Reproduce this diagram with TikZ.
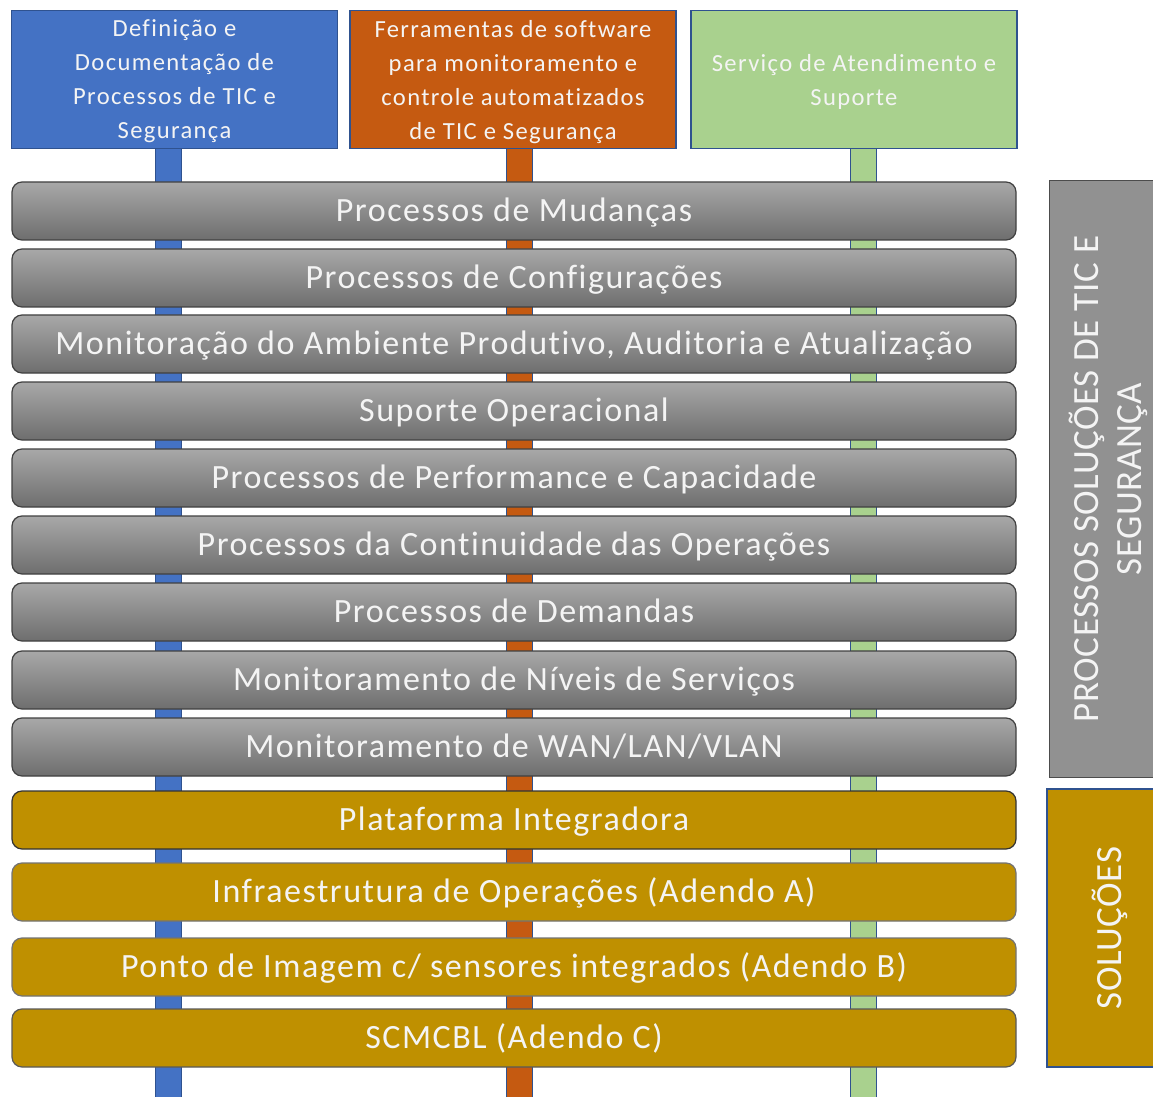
\documentclass[tikz,border=0pt]{standalone}
\usepackage{fontspec}
\setmainfont{Carlito}
\newfontfamily\barra[LetterSpace=4.5, Ligatures=NoCommon]{Carlito}
\newfontfamily\caixa[LetterSpace=5.5, Ligatures=NoCommon]{Carlito}
\newfontfamily\lateral[LetterSpace=1.5]{Carlito}
\usepackage{tikz}
\usepackage{xcolor}

\definecolor{azul}{HTML}{4472C4}
\definecolor{laranja}{HTML}{C55A11}
\definecolor{verde}{HTML}{A9D18E}
\definecolor{ouro}{HTML}{BF9000}
\definecolor{borda}{HTML}{2F528F}
\definecolor{cinzaA}{HTML}{A8A8A8}
\definecolor{cinzaB}{HTML}{6E6E6E}
\definecolor{letra}{HTML}{F4F4F4}

\tikzset{
  topo/.style={draw=borda, line width=0.6pt, minimum width=163pt, minimum height=69pt,
    text=letra, align=center, text depth=0pt, font=\caixa\fontsize{12.3}{17}\selectfont},
  pilar/.style={draw=borda, line width=0.5pt, double=#1, double distance=12.5pt},
  processo/.style={draw=black!75, line width=0.6pt, rounded corners=5pt,
    top color=cinzaA, bottom color=cinzaB, minimum width=502pt, minimum height=29pt,
    text height=13.2pt, text depth=2.4pt,
    text=letra, font=\barra\fontsize{17}{20}\selectfont},
  solucao/.style={draw=black!80, line width=0.6pt, rounded corners=5pt, fill=ouro,
    minimum width=502pt, minimum height=29pt, text height=13.2pt, text depth=2.4pt,
    text=letra, font=\barra\fontsize{17}{20}\selectfont},
  lado/.style={rotate=90, align=center, text=letra, font=\lateral\fontsize{18.5}{21.5}\selectfont}
}

\begin{document}
\begin{tikzpicture}[x=0.5pt, y=-0.5pt]
  \useasboundingbox (0,0) rectangle (1153,1097);

  % caixas de cima
  \node[topo, fill=azul] (definicao) at (174.5,79.5) {Definição e\\Documentação de\\Processos de TIC e\\Segurança};
  \node[topo, fill=laranja] (ferramentas) at (513,79.5) {Ferramentas de software\\para monitoramento e\\controle automatizados\\de TIC e Segurança};
  \node[topo, fill=verde] (servico) at (854,79.5) {Serviço de Atendimento e\\Suporte};

  % pilares
  \coordinate (fimA) at (168,1100);
  \coordinate (fimB) at (519,1100);
  \coordinate (fimC) at (863,1100);
  \draw[pilar=azul] (definicao.south -| fimA) -- (fimA);
  \draw[pilar=laranja] (ferramentas.south -| fimB) -- (fimB);
  \draw[pilar=verde] (servico.south -| fimC) -- (fimC);

  % processos
  \node[processo] (mudancas) at (514,211) {Processos de Mudanças};
  \node[processo] (configuracoes) at (514,278) {Processos de Configurações};
  \node[processo] (monitoracao) at (514,344) {Monitoração do Ambiente Produtivo, Auditoria e Atualização};
  \node[processo] (suporte) at (514,411) {Suporte Operacional};
  \node[processo] (performance) at (514,478) {Processos de Performance e Capacidade};
  \node[processo] (continuidade) at (514,545) {Processos da Continuidade das Operações};
  \node[processo] (demandas) at (514,612) {Processos de Demandas};
  \node[processo] (niveis) at (514,680) {Monitoramento de Níveis de Serviços};
  \node[processo] (rede) at (514,747) {Monitoramento de WAN/LAN/VLAN};

  % solucoes
  \node[solucao] (plataforma) at (514,820) {Plataforma Integradora};
  \node[solucao, draw=black!55] (infraestrutura) at (514,892) {Infraestrutura de Operações (Adendo A)};
  \node[solucao, draw=black!55] (ponto) at (514,967) {Ponto de Imagem c/ sensores integrados (Adendo B)};
  \node[solucao, draw=black!65] (scmcbl) at (514,1038) {SCMCBL (Adendo C)};

  % laterais
  \filldraw[fill=black!43, draw=black!70, line width=0.5pt] (1049,181) rectangle (1165,777);
  \filldraw[fill=ouro, draw=borda, line width=0.6pt] (1047,789) rectangle (1165,1067);
  \node[lado] (grupoA) at (1108.5,479) {PROCESSOS SOLUÇÕES DE TIC E\\SEGURANÇA};
  \node[lado] (grupoB) at (1110,928) {SOLUÇÕES};
\end{tikzpicture}
\end{document}
